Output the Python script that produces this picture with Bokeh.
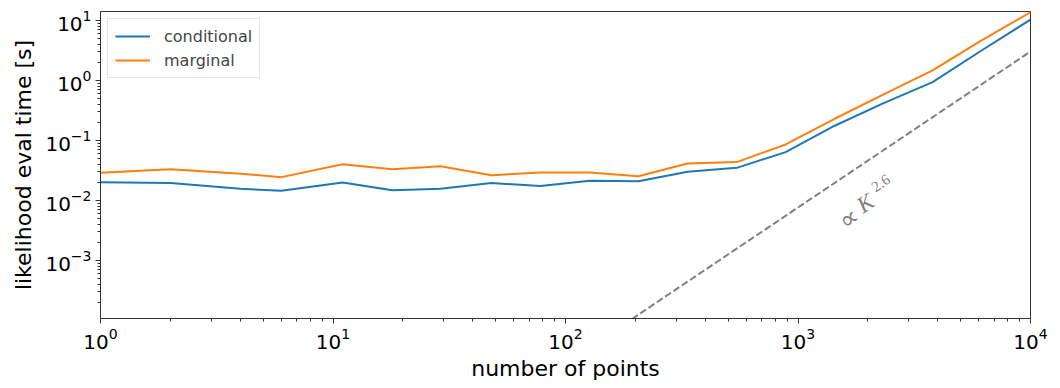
import math
from bokeh.plotting import figure
from bokeh.models import Range1d, FixedTicker, LogTickFormatter, Label, Legend, LegendItem
from bokeh.embed import file_html
from bokeh.resources import INLINE

# ---- data ----
n_points = [1, 2, 4, 6, 11, 18, 29, 48, 78, 127, 206, 335, 545, 885, 1438, 2335, 3792, 6158, 10000]
conditional = [0.0202, 0.0195, 0.0157, 0.0145, 0.0200, 0.0148, 0.0157, 0.0195, 0.0174, 0.0213,
               0.0210, 0.0300, 0.0350, 0.0640, 0.176, 0.42, 0.94, 3.16, 10.3]
marginal = [0.0290, 0.0330, 0.0279, 0.0245, 0.0403, 0.0330, 0.0372, 0.0264, 0.0293, 0.0293,
            0.0254, 0.0414, 0.0436, 0.0858, 0.230, 0.585, 1.47, 4.64, 13.7]
ref_exponent = 2.6
ref_value_at_max = 3.04
ref_x = [1, 10000]
ref_y = [ref_value_at_max * (k / 10000) ** ref_exponent for k in ref_x]

x_major = [1, 10, 100, 1000, 10000]
y_major = [1e-3, 1e-2, 1e-1, 1, 10]

def minor_ticks(lo_exp, hi_exp):
    out = []
    for e in range(lo_exp, hi_exp + 1):
        for m in range(2, 10):
            out.append(m * 10.0 ** e)
    return out

p = figure(width=1060, height=388, x_axis_type="log", y_axis_type="log",
           x_range=Range1d(1, 1e4), y_range=Range1d(1.08e-4, 14.1),
           output_backend="svg", toolbar_location=None,
           min_border_left=100, min_border_right=30, min_border_top=11, min_border_bottom=70)

p.grid.visible = False
p.outline_line_color = "#333333"
p.outline_line_width = 1
p.background_fill_color = "white"
p.border_fill_color = "white"

p.xaxis.ticker = FixedTicker(ticks=x_major, minor_ticks=minor_ticks(0, 3))
p.yaxis.ticker = FixedTicker(ticks=y_major, minor_ticks=minor_ticks(-4, 1))
p.xaxis.formatter = LogTickFormatter()
p.yaxis.formatter = LogTickFormatter()

for ax in (p.xaxis[0], p.yaxis[0]):
    ax.axis_line_color = "#333333"
    ax.major_tick_line_color = "#333333"
    ax.minor_tick_line_color = "#333333"
    ax.major_tick_out = 5
    ax.major_tick_in = 0
    ax.minor_tick_out = 3
    ax.minor_tick_in = 0
    ax.major_label_text_font = "DejaVu Sans"
    ax.major_label_text_font_size = "20px"
    ax.major_label_text_color = "black"
    ax.axis_label_text_font = "DejaVu Sans"
    ax.axis_label_text_font_size = "22px"
    ax.axis_label_text_font_style = "normal"
    ax.axis_label_text_color = "black"
    ax.major_label_standoff = 4

p.xaxis.axis_label = "number of points"
p.yaxis.axis_label = "likelihood eval time [s]"
p.xaxis.axis_label_standoff = 4
p.yaxis.axis_label_standoff = 6

r1 = p.line(n_points, conditional, line_color="#1f77b4", line_width=2)
r2 = p.line(n_points, marginal, line_color="#ff7f0e", line_width=2)
p.line(ref_x, ref_y, line_color="#808080", line_width=2, line_dash="7 3")

angle = math.atan2(60 * ref_exponent, 232.5)
p.add_layout(Label(x=1540, y=4.0e-3, text="∝", angle=angle, angle_units="rad",
                   text_font="Liberation Serif", text_font_style="normal",
                   text_font_size="26px", text_color="#808080",
                   text_align="left", text_baseline="alphabetic"))
p.add_layout(Label(x=1830, y=7.6e-3, text="K", angle=angle, angle_units="rad",
                   text_font="Liberation Serif", text_font_style="italic",
                   text_font_size="23px", text_color="#808080",
                   text_align="left", text_baseline="alphabetic"))
p.add_layout(Label(x=2100, y=0.0160, text="2.6", angle=angle, angle_units="rad",
                   text_font="Liberation Serif", text_font_style="normal",
                   text_font_size="15px", text_color="#808080",
                   text_align="left", text_baseline="alphabetic"))

legend = Legend(items=[LegendItem(label="conditional", renderers=[r1]),
                       LegendItem(label="marginal", renderers=[r2])],
                location="top_left")
legend.margin = 7
legend.padding = 7
legend.spacing = 4
legend.label_text_font = "DejaVu Sans"
legend.label_text_font_size = "16px"
legend.label_height = 20
legend.glyph_height = 20
legend.glyph_width = 35
legend.label_standoff = 14
legend.border_line_color = "#cccccc"
legend.border_line_width = 1
legend.background_fill_alpha = 0.8
p.add_layout(legend)

open("out.html", "w").write(file_html(p, INLINE))
